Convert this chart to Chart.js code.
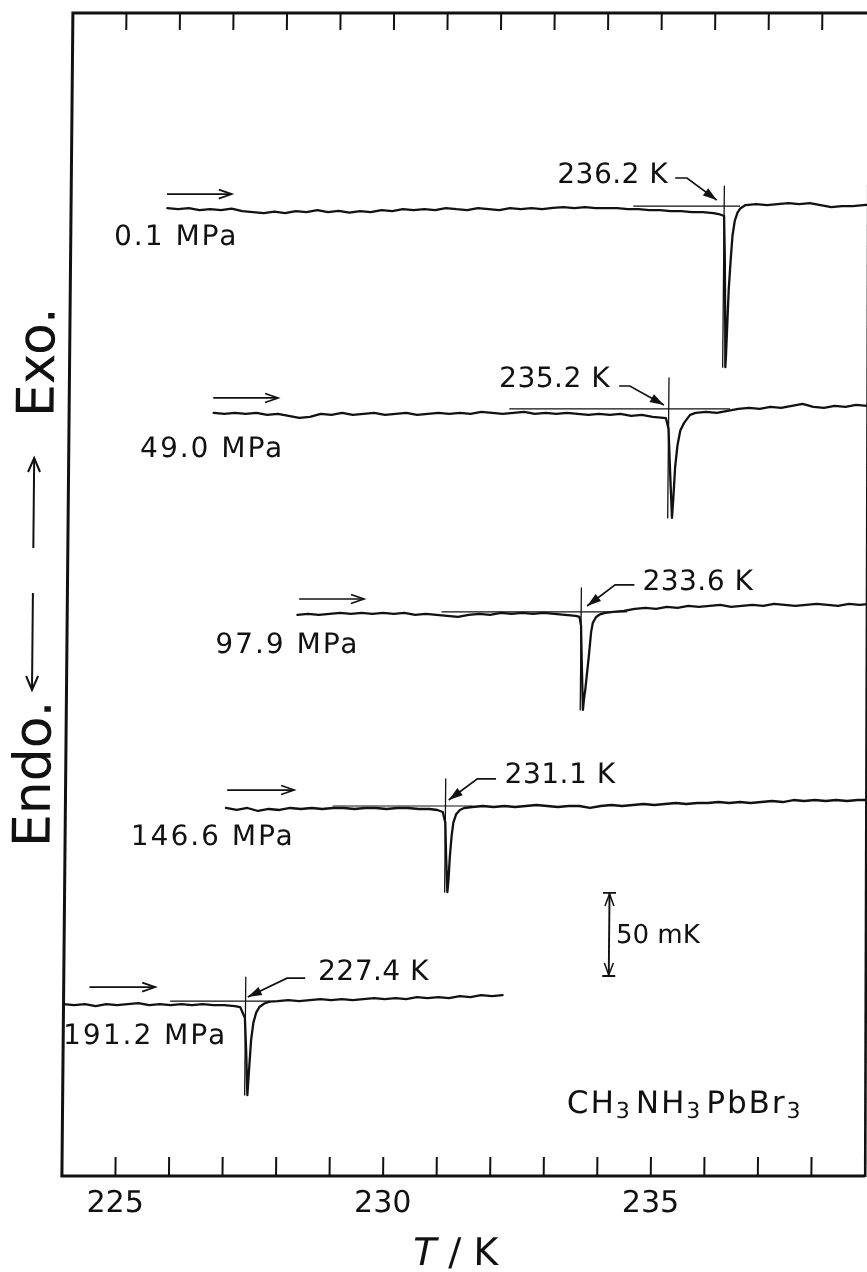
<!DOCTYPE html>
<html>
<head>
<meta charset="utf-8">
<title>CH3NH3PbBr3 DTA under pressure</title>
<script src="https://cdn.jsdelivr.net/npm/chart.js@4.4.1/dist/chart.umd.min.js"></script>
<style>
  html, body { margin: 0; padding: 0; background: #fff; overflow: hidden; }
  #wrap { width: 867px; height: 1272px; overflow: hidden; position: relative; }
  canvas { display: block; }
</style>
</head>
<body>
<div id="wrap"><canvas id="dta" width="880" height="1272"></canvas></div>
<script>
// ---------- measured runs (temperature in K, DTA signal in mK) ----------
const pressures = [0.1, 49.0, 97.9, 146.6, 191.2];      // MPa
const onsetT    = [236.2, 235.2, 233.6, 231.1, 227.4];  // K, extrapolated onset
const baseLevel = [583.8, 461.7, 339.5, 222.7, 105.3];  // mK, vertical offset of each run
const sampleStep = 0.2;                                 // K between baseline samples

// 0.1 MPa
const run1PreStart = 225.8;
const run1Pre = [-1.2,-1.8,-1.2,-2.4,-1.8,-2.4,-1.5,-3.0,-3.6,-4.2,
                 -3.4,-4.2,-3.0,-3.6,-2.4,-3.6,-2.9,-4.0,-3.0,-3.6,
                 -2.4,-3.0,-1.8,-2.5,-1.8,-2.4,-1.2,-1.9,-2.4,-1.2,
                 -1.8,-2.4,-1.3,-1.9,-1.2,-1.8,-1.1,-0.6,-1.3,-0.6,
                 -1.2,-1.2,-1.3,-1.8,-1.9,-2.4,-2.5,-3.0,-3.1,-3.6,
                 -3.7,-4.2];
const run1PeakT = [236.10,236.20,236.22,236.24,236.25,236.26,236.28,236.30,236.33,236.36,236.40,236.45,236.50];
const run1PeakV = [-4.8,-6,-30,-70,-97,-90,-70,-50,-33,-18,-9,-4,-1.5];
const run1PostStart = 236.6;
const run1Post = [0.6,1.2,0.6,1.2,1.8,1.2,1.8,0.6,-0.6,0,0,0.6,1.2];

// 49.0 MPa
const run2PreStart = 226.7;
const run2Pre = [-2.4,-3.0,-2.4,-3.0,-2.4,-3.6,-3.0,-4.2,-5.4,-4.8,
                 -3.0,-3.6,-2.4,-3.6,-3.0,-2.4,-3.6,-3.0,-2.4,-3.6,
                 -3.0,-2.4,-3.0,-2.4,-3.0,-1.8,-2.4,-3.0,-2.4,-1.8,
                 -3.0,-2.4,-3.0,-2.4,-3.0,-3.6,-3.0,-3.6,-3.0,-4.2,
                 -3.6,-4.8,-5.4];
const run2PeakT = [235.15,235.20,235.24,235.28,235.30,235.33,235.37,235.42,235.49,235.60];
const run2PeakV = [-5.6,-12,-40,-65.6,-55,-35,-22,-13,-8.4,-3.6];
const run2PostStart = 235.7;
const run2Post = [-2.4,-1.8,-2.4,-1.2,0,0.6,0,1.2,0.6,1.8,3.0,1.2,0.6,1.8,1.2,2.4,1.8,3.0];

// 97.9 MPa
const run3PreStart = 228.3;
const run3Pre = [-1.8,-1.2,-1.8,-1.2,-0.6,-1.2,-0.6,-1.2,-0.6,-1.2,
                 -0.6,-1.8,-1.2,-1.8,-2.4,-3.0,-1.8,-1.2,-1.8,-0.6,
                 -1.2,-0.6,-1.2,-0.6,-1.2,-1.8,-2.4];
const run3PeakT = [233.57,233.60,233.62,233.65,233.67,233.69,233.72,233.75,233.79,233.82,233.88,233.95,234.05];
const run3PeakV = [-3.0,-8,-30,-59,-52,-47,-37,-27,-12,-6.6,-3.0,-1.5,-0.6];
const run3PostStart = 234.2;
const run3Post = [0,0.6,1.8,2.4,1.8,3.0,2.4,3.6,3.0,3.6,
                  4.2,3.0,3.6,4.2,3.6,4.8,4.2,3.6,4.2,4.8,
                  4.2,3.6,4.8,4.2,4.8];

// 146.6 MPa
const run4PreStart = 227.0;
const run4Pre = [-1.2,-2.4,-1.2,-3.0,-1.8,-2.4,-1.2,-1.8,-1.2,-1.8,
                 -1.2,-1.2,-1.8,-1.2,-1.2,-1.8,-1.2,-1.2,-1.8,-1.8];
const run4PeakT = [230.95,231.05,231.10,231.12,231.15,231.17,231.19,231.22,231.25,231.30,231.37,231.45];
const run4PeakV = [-2.4,-3.6,-10,-30,-51.8,-44,-30.7,-18,-10,-5,-2.4,-1.2];
const run4PostStart = 231.6;
const run4Post = [-0.6,0,-0.6,0,-0.6,0,0.6,0,-0.6,0,
                  0,-1.2,0,0.6,0,0.6,1.2,0.6,1.2,1.8,
                  1.2,1.8,1.8,2.4,1.8,2.4,1.8,2.4,3.0,2.4,
                  3.6,3.0,3.6,3.0,3.6,3.0,3.6,3.6];

// 191.2 MPa
const run5PreStart = 224.0;
const run5Pre = [-1.8,-2.4,-1.8,-3.0,-1.8,-2.4,-1.8,-1.2,-2.4,-1.8,
                 -2.4,-1.8,-2.4,-1.8,-2.4,-2.4,-3.0];
const run5PeakT = [227.30,227.39,227.42,227.45,227.48,227.51,227.55,227.60,227.66,227.75,227.85];
const run5PeakV = [-3.6,-10,-30,-56.6,-40,-23.5,-13,-7,-3.6,-1.5,-0.3];
const run5PostStart = 228.0;
const run5Post = [0,0.6,0,0.6,1.2,0.6,1.2,0.6,1.2,1.8,
                  1.2,1.8,1.2,2.4,1.8,2.4,1.8,3.0,2.4,3.6,
                  3.0,3.6];

// ---------- construction lines and annotations (K / mK) ----------
const extrapFrom = [234.51, 232.23, 231.0, 229.0, 226.0];   // extrapolated baseline
const extrapTo   = [236.49, 236.34, 234.45, 231.6, 227.85];
const markerTop  = [12, 18.7, 14.4, 16.3, 14.4];           // onset tick, mK above baseline

const dirArrowT0   = [225.79, 226.69, 228.33, 227.02, 224.48];  // heating-direction arrows
const dirArrowT1   = [227.00, 227.90, 229.54, 228.27, 225.71];
const dirArrowLift = [7.2, 6.6, 7.8, 9.6, 8.4];

const pLabelT    = [225.97, 226.68, 228.12, 226.76, 225.53];   // pressure label centres
const pLabelLift = [-23.5, -28.9, -24.7, -23.5, -25.9];

const onsetLabelT     = [235.15, 234.10, 234.74, 232.20, 228.75];
const onsetLabelLift  = [13.8, 13.2, 13.2, 13.8, 12.6];
const onsetLabelAlign = ['right', 'right', 'left', 'left', 'left'];

// leader lines, arrow tip last
const leader1T = [235.28, 235.50, 236.06], leader1V = [16.9, 16.9, 3.6];
const leader2T = [234.27, 234.47, 235.11], leader2V = [13.8, 13.8, 2.4];
const leader3T = [234.59, 234.23, 233.71], leader3V = [16.3, 16.3, 3.6];
const leader4T = [232.04, 231.69, 231.16], leader4V = [16.3, 16.3, 3.6];
const leader5T = [228.51, 228.17, 227.44], leader5V = [13.8, 13.8, 2.4];

const scaleBarT = 234.18, scaleBarLow = 120.4, scaleBarSpan = 50;   // 50 mK bar
const scaleBarLabelT = 234.31, scaleBarLabelY = 140.2;
const formulaT = 233.42, formulaY = 37.9;

const labelledTicks = [225, 230, 235];

// ---------- assembly ----------
const runs = [
  { preStart: run1PreStart, pre: run1Pre, peakT: run1PeakT, peakV: run1PeakV, postStart: run1PostStart, post: run1Post, lT: leader1T, lV: leader1V },
  { preStart: run2PreStart, pre: run2Pre, peakT: run2PeakT, peakV: run2PeakV, postStart: run2PostStart, post: run2Post, lT: leader2T, lV: leader2V },
  { preStart: run3PreStart, pre: run3Pre, peakT: run3PeakT, peakV: run3PeakV, postStart: run3PostStart, post: run3Post, lT: leader3T, lV: leader3V },
  { preStart: run4PreStart, pre: run4Pre, peakT: run4PeakT, peakV: run4PeakV, postStart: run4PostStart, post: run4Post, lT: leader4T, lV: leader4V },
  { preStart: run5PreStart, pre: run5Pre, peakT: run5PeakT, peakV: run5PeakV, postStart: run5PostStart, post: run5Post, lT: leader5T, lV: leader5V }
];

const FONT = "'DejaVu Sans', 'Liberation Sans', sans-serif";
const INK = '#111111';
// the whole frame leans: its top edge sits a little to the right of its bottom edge
const SHEAR = 0.00946, SHEAR_PIVOT_Y = 636;

function tracePoints(r, level) {
  const pts = [];
  r.pre.forEach((v, i) => pts.push({ x: +(r.preStart + i * sampleStep).toFixed(2), y: level + v }));
  r.peakT.forEach((t, i) => pts.push({ x: t, y: level + r.peakV[i] }));
  r.post.forEach((v, i) => pts.push({ x: +(r.postStart + i * sampleStep).toFixed(2), y: level + v }));
  return pts;
}

const datasets = [];
runs.forEach((r, i) => {
  const lvl = baseLevel[i];
  datasets.push({ label: pressures[i].toFixed(1) + ' MPa', data: tracePoints(r, lvl),
                  borderColor: INK, borderWidth: 2.3, showLine: true, pointRadius: 0, tension: 0 });
  datasets.push({ label: 'baseline ' + i, data: [{ x: extrapFrom[i], y: lvl }, { x: extrapTo[i], y: lvl }],
                  borderColor: INK, borderWidth: 1.2, showLine: true, pointRadius: 0 });
  datasets.push({ label: 'onset ' + i, data: [{ x: onsetT[i], y: lvl + markerTop[i] }, { x: onsetT[i], y: lvl + Math.min(...r.peakV) }],
                  borderColor: INK, borderWidth: 1.3, showLine: true, pointRadius: 0 });
});

function openHead(ctx, x0, y0, x1, y1, len, half) {
  const a = Math.atan2(y1 - y0, x1 - x0), c = Math.cos(a), s = Math.sin(a);
  ctx.beginPath();
  ctx.moveTo(x1 - len * c + half * s, y1 - len * s - half * c);
  ctx.lineTo(x1, y1);
  ctx.lineTo(x1 - len * c - half * s, y1 - len * s + half * c);
  ctx.stroke();
}
function filledHead(ctx, x0, y0, x1, y1, len, half) {
  const a = Math.atan2(y1 - y0, x1 - x0), c = Math.cos(a), s = Math.sin(a);
  ctx.beginPath();
  ctx.moveTo(x1, y1);
  ctx.lineTo(x1 - len * c + half * s, y1 - len * s - half * c);
  ctx.lineTo(x1 - len * c - half * s, y1 - len * s + half * c);
  ctx.closePath();
  ctx.fill();
}

const shearPlugin = {
  id: 'shear',
  beforeDraw(chart) {
    const ctx = chart.ctx;
    ctx.save();
    ctx.fillStyle = '#fff';
    ctx.fillRect(0, 0, chart.width, chart.height);
    ctx.transform(1, 0, -SHEAR, 1, SHEAR * SHEAR_PIVOT_Y, 0);
  },
  afterDraw(chart) { chart.ctx.restore(); }
};

const decorPlugin = {
  id: 'decor',
  afterDatasetsDraw(chart) {
    const ctx = chart.ctx;
    const xs = chart.scales.x, ys = chart.scales.y;
    const px = t => xs.getPixelForValue(t), py = v => ys.getPixelForValue(v);
    const { left, right, top, bottom } = chart.chartArea;
    ctx.save();
    ctx.strokeStyle = INK; ctx.fillStyle = INK;
    ctx.lineCap = 'butt'; ctx.lineJoin = 'miter';

    // frame
    ctx.lineWidth = 3;
    ctx.beginPath();
    ctx.moveTo(right + 12, top); ctx.lineTo(left, top); ctx.lineTo(left, bottom); ctx.lineTo(right, bottom);
    ctx.stroke();

    // inward tick marks on top and bottom, every kelvin
    ctx.lineWidth = 2;
    xs.ticks.forEach(tk => {
      if (tk.value <= xs.min || tk.value >= xs.max) return;
      const x = px(tk.value);
      ctx.beginPath(); ctx.moveTo(x, top); ctx.lineTo(x, top + 17); ctx.stroke();
      ctx.beginPath(); ctx.moveTo(x, bottom); ctx.lineTo(x, bottom - 19); ctx.stroke();
    });

    runs.forEach((r, i) => {
      const lvl = baseLevel[i];
      // heating direction arrow
      ctx.lineWidth = 1.7;
      const ax0 = px(dirArrowT0[i]), ax1 = px(dirArrowT1[i]), ay = py(lvl + dirArrowLift[i]);
      ctx.beginPath(); ctx.moveTo(ax0, ay); ctx.lineTo(ax1, ay); ctx.stroke();
      openHead(ctx, ax0, ay, ax1, ay, 13, 4.5);

      // pressure label
      ctx.font = `28px ${FONT}`;
      ctx.letterSpacing = '2px';
      ctx.textAlign = 'center'; ctx.textBaseline = 'alphabetic';
      ctx.fillText(pressures[i].toFixed(1) + ' MPa', px(pLabelT[i]), py(lvl + pLabelLift[i]));

      // onset label
      ctx.letterSpacing = '0.5px';
      ctx.textAlign = onsetLabelAlign[i];
      ctx.fillText(onsetT[i].toFixed(1) + ' K', px(onsetLabelT[i]), py(lvl + onsetLabelLift[i]));
      ctx.letterSpacing = '0px';

      // leader with solid arrowhead
      ctx.lineWidth = 1.7;
      ctx.beginPath();
      r.lT.forEach((t, k) => {
        const x = px(t), y = py(lvl + r.lV[k]);
        if (k === 0) ctx.moveTo(x, y); else ctx.lineTo(x, y);
      });
      ctx.stroke();
      const n = r.lT.length;
      filledHead(ctx, px(r.lT[n - 2]), py(lvl + r.lV[n - 2]), px(r.lT[n - 1]), py(lvl + r.lV[n - 1]), 14, 4.5);
    });

    // 50 mK scale bar
    const sx = px(scaleBarT), sy0 = py(scaleBarLow), sy1 = py(scaleBarLow + scaleBarSpan);
    ctx.lineWidth = 1.9;
    ctx.beginPath(); ctx.moveTo(sx, sy0); ctx.lineTo(sx, sy1); ctx.stroke();
    ctx.beginPath(); ctx.moveTo(sx - 6.5, sy0); ctx.lineTo(sx + 6.5, sy0); ctx.stroke();
    ctx.beginPath(); ctx.moveTo(sx - 6.5, sy1); ctx.lineTo(sx + 6.5, sy1); ctx.stroke();
    ctx.lineWidth = 1.5;
    openHead(ctx, sx, sy1 + 20, sx, sy1 + 1, 12, 4.5);
    openHead(ctx, sx, sy0 - 20, sx, sy0 - 1, 12, 4.5);
    ctx.font = `26px ${FONT}`;
    ctx.textAlign = 'left';
    ctx.fillText(scaleBarSpan + ' mK', px(scaleBarLabelT), py(scaleBarLabelY));

    // compound formula with subscripts
    const parts = [['CH', false], ['3', true], ['NH', false], ['3', true], ['PbBr', false], ['3', true]];
    let fx = px(formulaT);
    const fy = py(formulaY);
    ctx.textAlign = 'left';
    parts.forEach(([txt, sub]) => {
      ctx.font = sub ? `22px ${FONT}` : `31px ${FONT}`;
      ctx.letterSpacing = '2px';
      ctx.fillText(txt, fx, sub ? fy + 5 : fy);
      fx += ctx.measureText(txt).width + (sub ? 4 : 0);
    });
    ctx.letterSpacing = '0px';

    // x-axis title
    ctx.font = `italic 38px ${FONT}`;
    const wT = ctx.measureText('T').width;
    ctx.font = `38px ${FONT}`;
    const wRest = ctx.measureText(' / K').width;
    const titleCx = (left + right) / 2 - 7;
    const tx = titleCx - (wT + wRest) / 2;
    const ty = bottom + 89;
    ctx.font = `italic 38px ${FONT}`;
    ctx.fillText('T', tx, ty);
    ctx.font = `38px ${FONT}`;
    ctx.fillText(' / K', tx + wT, ty);

    // y-axis caption: Endo. <-   -> Exo.
    ctx.save();
    ctx.translate(32.5, bottom - 329);
    ctx.rotate(-Math.PI / 2);
    ctx.font = `52px ${FONT}`;
    ctx.textAlign = 'left';
    ctx.fillText('Endo.', 0, 19);
    ctx.lineWidth = 2;
    ctx.beginPath(); ctx.moveTo(254, 0); ctx.lineTo(157, 0); ctx.stroke();
    openHead(ctx, 254, 0, 157, 0, 14, 6);
    ctx.beginPath(); ctx.moveTo(299, 0); ctx.lineTo(389, 0); ctx.stroke();
    openHead(ctx, 299, 0, 389, 0, 14, 6);
    ctx.fillText('Exo.', 430, 19);
    ctx.restore();

    // right edge of the frame, partly beyond the sheet
    ctx.save();
    ctx.setTransform(1, 0, 0, 1, 0, 0);
    ctx.lineWidth = 2.6;
    ctx.beginPath(); ctx.moveTo(868.8, top); ctx.lineTo(865.2, bottom + 1); ctx.stroke();
    ctx.restore();

    ctx.restore();
  }
};

new Chart(document.getElementById('dta'), {
  type: 'scatter',
  data: { datasets },
  options: {
    responsive: false,
    animation: false,
    devicePixelRatio: 1,
    layout: { padding: { left: 67, top: 13, right: 10, bottom: 0 } },
    plugins: { legend: { display: false }, tooltip: { enabled: false } },
    elements: { point: { radius: 0 }, line: { borderCapStyle: 'round', borderJoinStyle: 'round' } },
    scales: {
      x: {
        type: 'linear', position: 'bottom', min: 224, max: 239,
        afterFit: s => { s.height = 96; },
        grid: { display: false },
        border: { display: false },
        ticks: {
          stepSize: 1, autoSkip: false, maxRotation: 0, padding: 2, color: INK,
          font: { family: FONT, size: 30 },
          callback: v => labelledTicks.includes(Math.round(v)) && Math.abs(v - Math.round(v)) < 1e-6 ? String(Math.round(v)) : ''
        }
      },
      y: { type: 'linear', min: 0, max: 700, display: false }
    }
  },
  plugins: [shearPlugin, decorPlugin]
});
</script>
</body>
</html>
